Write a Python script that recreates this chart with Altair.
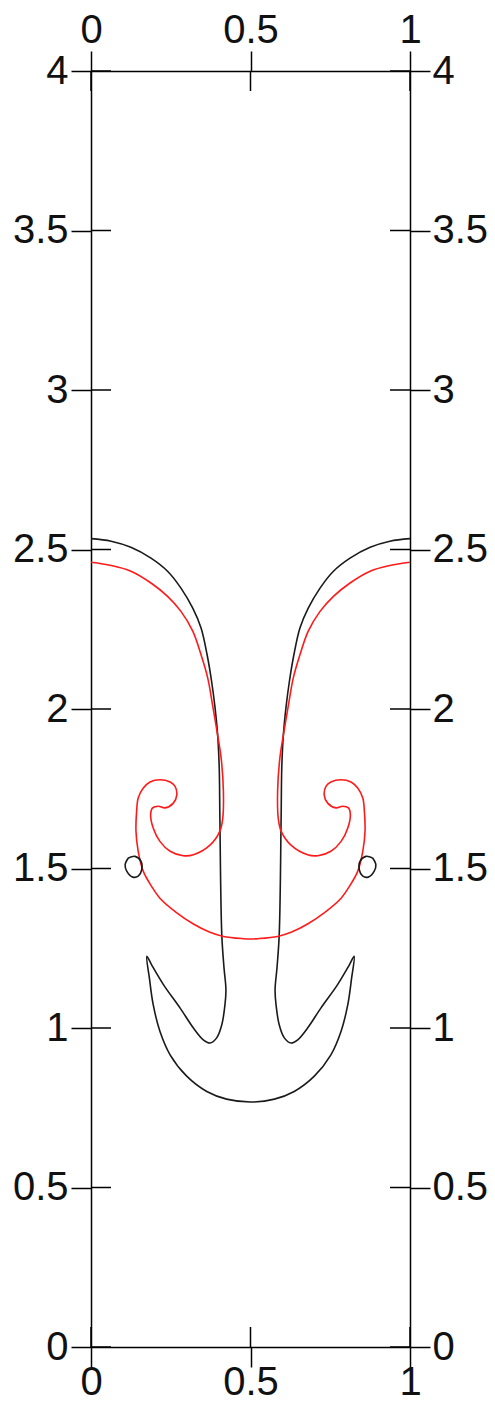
import altair as alt
import pandas as pd

# Tick values on the four sides of the frame
x_ticks = [0, 0.5, 1]
y_ticks = [0, 0.5, 1, 1.5, 2, 2.5, 3, 3.5, 4]

# Black interface, left half (wall -> cap -> stem -> head -> bottom centre)
black_x = [0.000, 0.063, 0.125, 0.188, 0.240, 0.282, 0.319, 0.345, 0.364, 0.378,
           0.389, 0.397, 0.402, 0.404, 0.410, 0.417, 0.423, 0.420, 0.410, 0.394,
           0.373, 0.352, 0.321, 0.279, 0.227, 0.190, 0.175, 0.183, 0.195, 0.216,
           0.248, 0.300, 0.363, 0.425, 0.500]
black_y = [2.534, 2.526, 2.507, 2.473, 2.432, 2.379, 2.316, 2.254, 2.170, 2.087,
           2.003, 1.919, 1.815, 1.658, 1.292, 1.188, 1.120, 1.073, 1.010, 0.969,
           0.953, 0.963, 1.000, 1.063, 1.136, 1.198, 1.225, 1.157, 1.073, 0.990,
           0.916, 0.849, 0.801, 0.777, 0.768]

# Red interface, left half (wall -> cap -> curl -> outer arc -> bottom centre)
red_x = [0.000, 0.063, 0.125, 0.188, 0.240, 0.282, 0.319, 0.345, 0.366, 0.381,
         0.395, 0.408, 0.415, 0.413, 0.404, 0.373, 0.321, 0.289, 0.248, 0.216,
         0.195, 0.187, 0.193, 0.211, 0.232, 0.258, 0.269, 0.263, 0.248, 0.216,
         0.185, 0.164, 0.148, 0.143, 0.141, 0.148, 0.164, 0.190, 0.216, 0.269,
         0.321, 0.373, 0.415, 0.477, 0.500]
red_y = [2.460, 2.450, 2.432, 2.395, 2.353, 2.306, 2.244, 2.170, 2.097, 2.013,
         1.930, 1.846, 1.742, 1.658, 1.617, 1.573, 1.543, 1.540, 1.554, 1.585,
         1.627, 1.669, 1.690, 1.695, 1.690, 1.705, 1.731, 1.758, 1.771, 1.778,
         1.771, 1.752, 1.721, 1.679, 1.617, 1.554, 1.491, 1.444, 1.407, 1.361,
         1.326, 1.300, 1.287, 1.280, 1.279]

# Small detached black droplet, left side
drop_x = [0.117, 0.138, 0.156, 0.159, 0.148, 0.131, 0.112, 0.107, 0.117]
drop_y = [1.533, 1.538, 1.524, 1.496, 1.476, 1.473, 1.492, 1.512, 1.533]

W, H = 319, 1276

rows = []


def add_path(path, series, xs, ys):
    for i, (x, y) in enumerate(zip(xs, ys)):
        rows.append({"path": path, "series": series, "idx": i, "x": x, "y": y})


def mirrored_full(xs, ys):
    fx = list(xs) + [1 - x for x in reversed(xs[:-1])]
    fy = list(ys) + list(reversed(ys[:-1]))
    return fx, fy


add_path("black_main", "black", *mirrored_full(black_x, black_y))
add_path("red_main", "red", *mirrored_full(red_x, red_y))
add_path("drop_left", "black", drop_x, drop_y)
add_path("drop_right", "black", [1 - x for x in drop_x], drop_y)
df = pd.DataFrame(rows)

xdf = pd.DataFrame({"v": x_ticks})
ydf = pd.DataFrame({"v": y_ticks})

xscale = alt.Scale(domain=[0, 1], nice=False, zero=False)
yscale = alt.Scale(domain=[0, 4], nice=False, zero=False)

common = dict(format="~g", labelFont="Liberation Sans", labelFontSize=40,
              labelColor="#111111", tickSize=20, tickWidth=1.5, tickColor="#000000",
              domainColor="#000000", domainWidth=1.5, grid=False, title=None,
              labelFlush=False, labelOverlap=False)

curves = alt.Chart(df).mark_line(strokeWidth=1.6, interpolate="catmull-rom").encode(
    x=alt.X("x:Q", scale=xscale,
            axis=alt.Axis(orient="bottom", values=x_ticks, labelPadding=-5, **common)),
    y=alt.Y("y:Q", scale=yscale,
            axis=alt.Axis(orient="left", values=y_ticks, labelPadding=3, **common)),
    color=alt.Color("series:N",
                    scale=alt.Scale(domain=["black", "red"], range=["#1a1a1a", "#ff1a1a"]),
                    legend=None),
    detail="path:N",
    order=alt.Order("idx:Q"),
)

rule_style = dict(color="#000000", strokeWidth=1.5)

rticks = alt.Chart(ydf).mark_rule(**rule_style).encode(
    y=alt.Y("v:Q", scale=yscale,
            axis=alt.Axis(orient="right", values=y_ticks, labelPadding=2, **common)),
    x=alt.value(W - 20), x2=alt.value(W),
)
lticks = alt.Chart(ydf).mark_rule(**rule_style).encode(
    y=alt.Y("v:Q", scale=yscale, axis=None),
    x=alt.value(0), x2=alt.value(20),
)
tticks = alt.Chart(xdf).mark_rule(**rule_style).encode(
    x=alt.X("v:Q", scale=xscale,
            axis=alt.Axis(orient="top", values=x_ticks, labelPadding=1, **common)),
    y=alt.value(0), y2=alt.value(20),
)
bticks = alt.Chart(xdf).mark_rule(**rule_style).encode(
    x=alt.X("v:Q", scale=xscale, axis=None),
    y=alt.value(H - 20), y2=alt.value(H),
)

chart = (
    alt.layer(curves, rticks, lticks, tticks, bticks)
    .resolve_axis(x="independent", y="independent")
    .properties(width=W, height=H,
                autosize=alt.AutoSizeParams(type="none"),
                padding={"left": 83, "top": 63, "right": 77, "bottom": 48},
                background="#ffffff")
    .configure_view(stroke=None)
)

chart.save("out.html", embed_options={"renderer": "svg", "actions": False})
